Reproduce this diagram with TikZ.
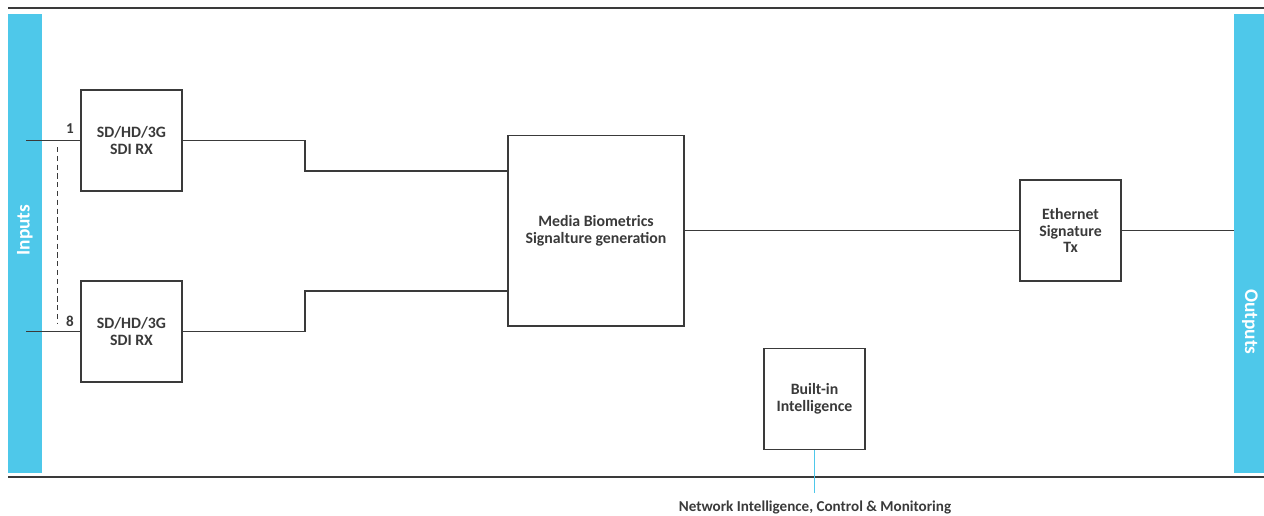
\documentclass[tikz,border=0pt]{standalone}
\usepackage{fontspec}
\setmainfont{Carlito}
\definecolor{barblue}{HTML}{4EC8EA}
\definecolor{linegray}{HTML}{3A3A3A}

\begin{document}
\begin{tikzpicture}[x=0.02cm, y=-0.02cm,
        blk/.style={draw=linegray, line width=0.6pt, align=center, inner sep=0pt,
            font=\fontsize{9}{9.6}\selectfont\bfseries, text=linegray},
        sdibox/.style={blk, minimum width=2.02cm, minimum height=2.02cm},
        wire/.style={draw=linegray, line width=0.6pt},
        barlabel/.style={text=white, font=\fontsize{11}{12}\selectfont\bfseries},
        numlabel/.style={text=linegray, font=\fontsize{8.6}{9}\selectfont\bfseries}]
        \useasboundingbox (0,0) rectangle (1264,515);

        % frame lines and side bars
        \draw[wire] (8,8) -- (1264,8);
        \draw[wire] (8,477) -- (1264,477);
        \fill[barblue] (8,14) rectangle (42,473);
        \fill[barblue] (1234,14) rectangle (1264,473);
        \node[barlabel, rotate=90] (inputs) at (25,230) {Inputs};
        \node[barlabel, rotate=-90] (outputs) at (1250,322) {Outputs};

        % blocks
        \node[sdibox] (rx1) at (131.5,140.5) {SD/HD/3G\\SDI RX};
        \node[sdibox] (rx8) at (131.5,331.5) {SD/HD/3G\\SDI RX};
        \node[blk, minimum width=3.52cm, minimum height=3.82cm] (mbs) at (596,230.5) {Media Biometrics\\Signalture generation};
        \node[sdibox] (eth) at (1070.5,230.5) {Ethernet\\Signature\\Tx};
        \node[sdibox] (bii) at (814.5,399) {Built-in\\Intelligence};

        % inputs
        \coordinate (in1) at (26,140.5);
        \coordinate (in8) at (26,331.5);
        \draw[wire] (in1) -- (rx1.west);
        \draw[wire] (in8) -- (rx8.west);
        \node[numlabel] (n1) at (70,129) {1};
        \node[numlabel] (n8) at (70,321) {8};
        \draw[linegray, line width=0.55pt, dash pattern=on 3pt off 2pt] (57,147) -- (57,324);

        % to signature generation
        \draw[wire] (rx1.east) -- (305,140.5) |- (mbs.west |- 0,171);
        \draw[wire] (rx8.east) -- (305,331.5) |- (mbs.west |- 0,291);
        \draw[wire] (mbs.east) -- (eth.west);
        \coordinate (out) at (1234,230.5);
        \draw[wire] (eth.east) -- (out);

        % network side
        \coordinate (net) at (814.5,493);
        \draw[barblue, line width=0.7pt] (bii.south) -- (net);
        \node[numlabel, anchor=base, inner sep=0pt] (netlabel) at (815,511.5) {Network Intelligence, Control \& Monitoring};
\end{tikzpicture}
\end{document}
